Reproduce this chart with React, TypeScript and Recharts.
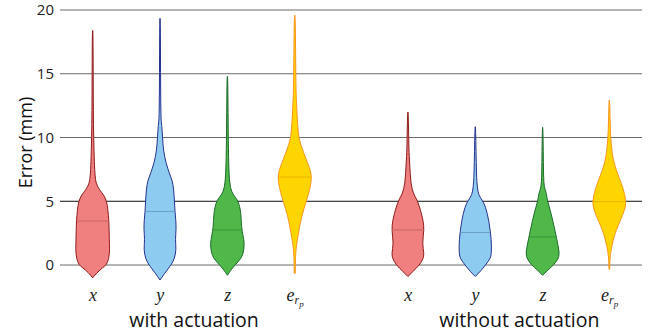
import React from 'react';
import { ComposedChart, Bar, XAxis, YAxis, CartesianGrid, Label } from 'recharts';

// x positions of the violins (two groups, with a wider gap between them)
const positions = [1, 2, 3, 4, 5.68, 6.68, 7.68, 8.67];
const tickNames = ['x', 'y', 'z', 'e_rp', 'x', 'y', 'z', 'e_rp'];
const groupNames = ['with actuation', 'without actuation'];
const groupPositions = [2.5, 7.33];

const yTicks = [0, 5, 10, 15, 20];

// error range (mm) and medians per violin
const minimums = [-1.0, -1.18, -0.8, -0.65, -0.9, -0.9, -0.8, -0.33];
const maximums = [18.4, 19.35, 14.8, 19.6, 12.0, 10.85, 10.8, 12.95];
const medians = [3.45, 4.2, 2.75, 6.9, 2.75, 2.55, 2.2, 4.97];

// density profiles: [error, relative half width]
const withX = [[-1.0, 0], [-0.6, 0.25], [-0.2, 0.6], [0, 0.8], [0.5, 0.95], [1.2, 1.0], [2, 0.98], [2.7, 0.97], [3.5, 0.95], [4.3, 0.9], [5.0, 0.82], [5.5, 0.65], [5.9, 0.4], [6.4, 0.2], [7, 0.14], [8, 0.1], [10, 0.06], [12, 0.04], [15, 0.03], [18.4, 0.02]];
const withY = [[-1.18, 0], [-0.6, 0.3], [0, 0.65], [0.5, 0.85], [1.2, 0.95], [2, 0.9], [2.8, 0.95], [3.5, 0.93], [4.2, 0.88], [5, 0.85], [6, 0.8], [6.6, 0.72], [7.2, 0.55], [8, 0.35], [9, 0.2], [10, 0.15], [11, 0.1], [11.5, 0.05], [15, 0.03], [19.35, 0.02]];
const withZ = [[-0.8, 0], [-0.4, 0.2], [0, 0.45], [0.5, 0.8], [1, 0.95], [1.7, 1.0], [2.3, 0.92], [3, 0.83], [4, 0.8], [4.6, 0.72], [5.1, 0.6], [5.5, 0.35], [6, 0.18], [7, 0.1], [9, 0.06], [12, 0.04], [14.8, 0.02]];
const withE = [[-0.65, 0.03], [0.5, 0.04], [1.4, 0.08], [2.5, 0.22], [3.8, 0.4], [5.1, 0.7], [6, 0.9], [6.9, 1.0], [7.5, 0.9], [8.2, 0.7], [9.5, 0.33], [10.3, 0.2], [12.7, 0.1], [14, 0.07], [16.7, 0.05], [19.6, 0.03]];
const withoutX = [[-0.9, 0], [-0.5, 0.3], [0, 0.68], [0.5, 0.9], [0.9, 0.95], [1.7, 0.85], [2.75, 0.95], [3.5, 0.9], [4.6, 0.68], [5.2, 0.5], [5.6, 0.32], [6.4, 0.17], [8, 0.1], [9, 0.06], [12, 0.02]];
const withoutY = [[-0.9, 0], [-0.5, 0.3], [0, 0.6], [0.5, 0.88], [0.9, 0.95], [1.96, 0.95], [3.5, 0.8], [4.6, 0.6], [5.1, 0.4], [5.5, 0.2], [6.1, 0.12], [7, 0.07], [10.85, 0.02]];
const withoutZ = [[-0.8, 0], [-0.4, 0.3], [0, 0.65], [0.65, 1.0], [1.4, 0.93], [2.75, 0.72], [4.05, 0.5], [5.1, 0.27], [5.6, 0.23], [6.1, 0.09], [7, 0.05], [10.8, 0.02]];
const withoutE = [[-0.33, 0.02], [0.65, 0.04], [1.4, 0.13], [2.5, 0.33], [3.5, 0.65], [4.3, 0.9], [4.97, 1.0], [6.1, 0.8], [7.2, 0.47], [8.2, 0.23], [9.3, 0.12], [10.5, 0.06], [12.95, 0.02]];
const profiles = [withX, withY, withZ, withE, withoutX, withoutY, withoutZ, withoutE];

const fills = ['#f08080', '#8ecbf0', '#4fb848', '#ffd500', '#f08080', '#8ecbf0', '#4fb848', '#ffd500'];
const strokes = ['#8e1b1b', '#26328c', '#1d6b2c', '#f7941e', '#8e1b1b', '#26328c', '#1d6b2c', '#f7941e'];
const medianColors = ['#c76565', '#6b9fcb', '#3a9438', '#e8b400', '#c76565', '#6b9fcb', '#3a9438', '#e8b400'];

const data = positions.map((pos, i) => ({
  pos,
  range: [minimums[i], maximums[i]],
  median: medians[i],
  profile: profiles[i],
  fill: fills[i],
  stroke: strokes[i],
  medianColor: medianColors[i],
}));

const FONT = '"Open Sans", sans-serif';

const widthAt = (profile: number[][], v: number) => {
  for (let i = 0; i < profile.length - 1; i++) {
    const [a, wa] = profile[i];
    const [b, wb] = profile[i + 1];
    if (v >= a && v <= b) return wa + ((v - a) / (b - a)) * (wb - wa);
  }
  return 0;
};

const Violin = (props: any) => {
  const { x, y, width, height, payload } = props;
  const [lo, hi] = payload.range;
  const top = Math.min(y, y + height);
  const bottom = Math.max(y, y + height);
  const toPx = (v: number) => bottom - ((v - lo) / (hi - lo)) * (bottom - top);
  const cx = x + width / 2;
  const half = width / 2;
  const prof: number[][] = payload.profile;
  const right = prof.map(([v, w]) => [cx + w * half, toPx(v)]);
  const left = prof.slice().reverse().map(([v, w]) => [cx - w * half, toPx(v)]);
  const pts = [...right, ...left];
  let d = `M${pts[0][0]},${pts[0][1]}`;
  for (let i = 1; i < pts.length - 1; i++) {
    const mx = (pts[i][0] + pts[i + 1][0]) / 2;
    const my = (pts[i][1] + pts[i + 1][1]) / 2;
    d += ` Q${pts[i][0]},${pts[i][1]} ${mx},${my}`;
  }
  d += ` L${pts[pts.length - 1][0]},${pts[pts.length - 1][1]} Z`;
  const mw = widthAt(prof, payload.median) * half * 0.97;
  const my = toPx(payload.median);
  return (
    <g>
      <path d={d} fill={payload.fill} stroke={payload.stroke} strokeWidth={1} strokeLinejoin="round" />
      <line x1={cx - mw} x2={cx + mw} y1={my} y2={my} stroke={payload.medianColor} strokeWidth={1} />
    </g>
  );
};

const MathTick = (props: any) => {
  const { x, y, payload } = props;
  const name = tickNames[positions.indexOf(payload.value)];
  const style = { fontFamily: '"Liberation Serif", serif', fontStyle: 'italic' as const, fill: '#222' };
  if (name === 'e_rp') {
    return (
      <text x={x} y={y + 19.5} textAnchor="middle" fontSize={18} style={style}>
        <tspan>e</tspan>
        <tspan dy={3} fontSize={12}>r</tspan>
        <tspan dy={3} fontSize={9}>p</tspan>
      </text>
    );
  }
  return (
    <text x={x} y={y + 19.5} textAnchor="middle" fontSize={18} style={style}>
      {name}
    </text>
  );
};

const GroupTick = (props: any) => {
  const { x, y, payload } = props;
  const name = groupNames[groupPositions.indexOf(payload.value)];
  return (
    <text x={x} y={y + 25.5} textAnchor="middle" fontSize={19.5} fontFamily={FONT} fill="#111">
      {name}
    </text>
  );
};

const GridLine = (p: any) => {
  if (p.y1 > 275) return <g key={`grid-${p.index}`} />;
  return (
    <line
      key={`grid-${p.index}`}
      x1={p.x1}
      y1={p.y1}
      x2={p.x2}
      y2={p.y2}
      stroke={Math.abs(p.y1 - 201.25) < 2 ? '#111' : '#6a6a6a'}
      strokeWidth={1}
    />
  );
};

export default function App() {
  return (
    <div style={{ position: 'absolute', left: 0, top: 0, width: 654, height: 335, background: '#fff' }}>
      <ComposedChart width={654} height={335} data={data} margin={{ top: 10, right: 12, bottom: 3.4, left: 0 }}>
        <CartesianGrid vertical={false} horizontal={GridLine} horizontalValues={yTicks} />
        <XAxis
          xAxisId={0}
          dataKey="pos"
          type="number"
          domain={[0.51, 9.15]}
          ticks={positions}
          tick={<MathTick />}
          tickLine={false}
          axisLine={false}
          tickSize={0}
          tickMargin={0}
          height={20}
          interval={0}
          allowDataOverflow
        />
        <XAxis
          xAxisId={1}
          dataKey="pos"
          type="number"
          domain={[0.51, 9.15]}
          ticks={groupPositions}
          tick={<GroupTick />}
          tickLine={false}
          axisLine={false}
          tickSize={0}
          tickMargin={0}
          height={30}
          interval={0}
          allowDataOverflow
        />
        <YAxis
          type="number"
          domain={[-1.3, 20]}
          ticks={yTicks}
          tickLine={false}
          axisLine={false}
          tickSize={0}
          tickMargin={6}
          width={60}
          interval={0}
          allowDataOverflow
          tick={{ fontSize: 15, fontFamily: FONT, fill: '#222' }}
        >
          <Label
            content={() => (
              <text
                x={25}
                y={142.5}
                transform="rotate(-90, 25, 142.5)"
                textAnchor="middle"
                dominantBaseline="central"
                fontSize={18}
                fontFamily={FONT}
                fill="#111"
              >
                Error (mm)
              </text>
            )}
          />
        </YAxis>
        <Bar xAxisId={0} dataKey="range" barSize={34} shape={<Violin />} isAnimationActive={false} />
      </ComposedChart>
    </div>
  );
}
